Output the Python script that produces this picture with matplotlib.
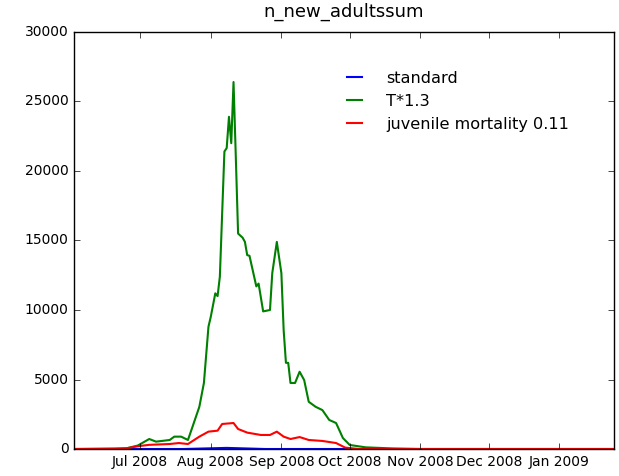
import matplotlib
matplotlib.use("Agg")
import matplotlib.pyplot as plt
import matplotlib.dates as mdates
import numpy as np

# values
dates_t13 = ["2008-06-02", "2008-06-25", "2008-06-30", "2008-07-05", "2008-07-08",
             "2008-07-14", "2008-07-16", "2008-07-19", "2008-07-22", "2008-07-24",
             "2008-07-27", "2008-07-29", "2008-07-31", "2008-08-01", "2008-08-03",
             "2008-08-04", "2008-08-05", "2008-08-07", "2008-08-08", "2008-08-09",
             "2008-08-10", "2008-08-11", "2008-08-12", "2008-08-13", "2008-08-15",
             "2008-08-16", "2008-08-17", "2008-08-18", "2008-08-21", "2008-08-22",
             "2008-08-24", "2008-08-27", "2008-08-28", "2008-08-30", "2008-09-01",
             "2008-09-02", "2008-09-03", "2008-09-04", "2008-09-05", "2008-09-07",
             "2008-09-09", "2008-09-11", "2008-09-13", "2008-09-16", "2008-09-19",
             "2008-09-22", "2008-09-25", "2008-09-28", "2008-10-01", "2008-10-08",
             "2008-10-20", "2008-11-01", "2009-01-25"]
t13 = [0, 50, 250, 720, 530,
       650, 890, 890, 650, 1600,
       3040, 4750, 8800, 9500, 11200,
       11000, 12400, 21400, 21650, 23900,
       22000, 26400, 21000, 15500, 15200,
       14900, 13950, 13900, 11700, 11900,
       9900, 10000, 12650, 14900, 12650,
       8550, 6200, 6200, 4750, 4750,
       5560, 4960, 3400, 3040, 2800,
       2090, 1870, 790, 290, 120,
       40, 0, 0]

dates_juv = ["2008-06-02", "2008-06-20", "2008-06-25", "2008-06-30", "2008-07-05",
             "2008-07-14", "2008-07-18", "2008-07-22", "2008-07-27", "2008-07-31",
             "2008-08-04", "2008-08-06", "2008-08-11", "2008-08-13", "2008-08-17",
             "2008-08-23", "2008-08-27", "2008-08-30", "2008-09-02", "2008-09-05",
             "2008-09-09", "2008-09-13", "2008-09-19", "2008-09-25", "2008-09-29",
             "2008-10-05", "2009-01-25"]
juv = [0, 0, 50, 200, 300,
       360, 430, 360, 890, 1250,
       1320, 1800, 1870, 1440, 1180,
       1010, 1010, 1250, 890, 720,
       860, 650, 580, 430, 100,
       0, 0]

dates_std = ["2008-06-02", "2008-07-20", "2008-08-08", "2008-08-25", "2009-01-25"]
std = [0, 0, 80, 0, 0]

plt.style.use("classic")
fig = plt.figure(figsize=(6.19, 4.76), dpi=100)
ax = fig.add_axes([0.1196, 0.0567, 0.8724, 0.8761])

d_std = np.array(dates_std, dtype="datetime64[D]")
d_t13 = np.array(dates_t13, dtype="datetime64[D]")
d_juv = np.array(dates_juv, dtype="datetime64[D]")

ax.plot(d_std, std, color="b", lw=1.5, label="standard")
ax.plot(d_t13, t13, color="g", lw=1.5, label="T*1.3")
ax.plot(d_juv, juv, color="r", lw=1.5, label="juvenile mortality 0.11")

ax.set_xlim(d_t13[0], d_t13[-1])
ax.set_ylim(0, 30000)
ax.xaxis.set_major_locator(mdates.MonthLocator())
ax.xaxis.set_major_formatter(mdates.DateFormatter("%b %Y"))
ax.tick_params(labelsize=10)
ax.set_title("n_new_adultssum", fontsize=13, pad=11)

ax.legend(loc="upper left", bbox_to_anchor=(0.469, 0.942), frameon=False,
          fontsize=11.6, handlelength=1.55, handletextpad=1.2, labelspacing=0.5)

fig.savefig("out.png", dpi=100)
